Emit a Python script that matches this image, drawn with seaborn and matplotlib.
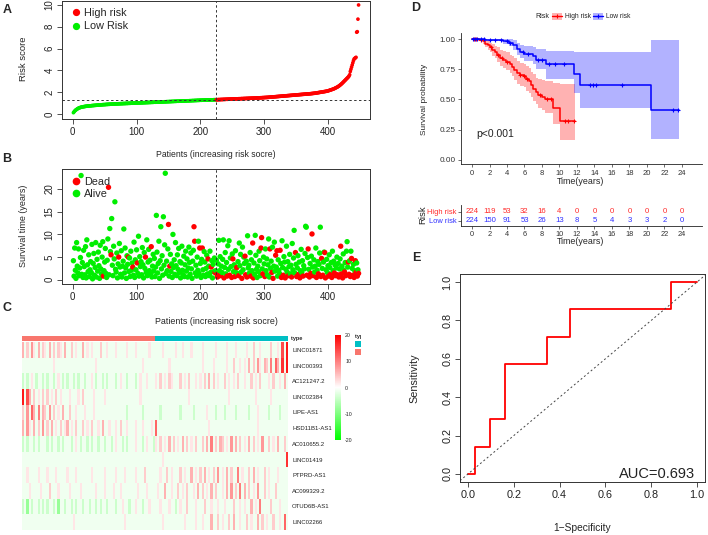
import numpy as np
import pandas as pd
import matplotlib
matplotlib.use('Agg')
import matplotlib.pyplot as plt
import seaborn as sns
from matplotlib.colors import LinearSegmentedColormap, ListedColormap
from matplotlib.lines import Line2D
from matplotlib.patches import Rectangle
from matplotlib.ticker import FormatStrFormatter

# ---- A: risk scores (sorted), low group then high group
risk_low = [
    0.12, 0.20, 0.27, 0.33, 0.38, 0.42, 0.46, 0.50, 0.53, 0.56, 0.58, 0.60, 0.62, 0.63, 0.65, 0.66,
    0.67, 0.68, 0.69, 0.70, 0.71, 0.72, 0.72, 0.73, 0.74, 0.74, 0.75, 0.75, 0.76, 0.77, 0.77, 0.78,
    0.78, 0.79, 0.79, 0.80, 0.80, 0.81, 0.81, 0.82, 0.82, 0.83, 0.83, 0.84, 0.84, 0.85, 0.85, 0.86,
    0.86, 0.86, 0.87, 0.87, 0.88, 0.88, 0.88, 0.89, 0.89, 0.89, 0.90, 0.90, 0.90, 0.91, 0.91, 0.91,
    0.92, 0.92, 0.92, 0.93, 0.93, 0.93, 0.93, 0.94, 0.94, 0.94, 0.95, 0.95, 0.95, 0.95, 0.96, 0.96,
    0.96, 0.96, 0.97, 0.97, 0.97, 0.97, 0.98, 0.98, 0.98, 0.98, 0.99, 0.99, 0.99, 0.99, 1.00, 1.00,
    1.00, 1.00, 1.01, 1.01, 1.01, 1.01, 1.02, 1.02, 1.02, 1.02, 1.03, 1.03, 1.03, 1.03, 1.04, 1.04,
    1.04, 1.04, 1.05, 1.05, 1.05, 1.05, 1.06, 1.06, 1.06, 1.06, 1.07, 1.07, 1.07, 1.07, 1.08, 1.08,
    1.08, 1.08, 1.09, 1.09, 1.09, 1.09, 1.10, 1.10, 1.10, 1.10, 1.11, 1.11, 1.11, 1.11, 1.12, 1.12,
    1.12, 1.12, 1.13, 1.13, 1.13, 1.13, 1.14, 1.14, 1.14, 1.14, 1.15, 1.15, 1.15, 1.15, 1.16, 1.16,
    1.16, 1.16, 1.17, 1.17, 1.17, 1.17, 1.18, 1.18, 1.18, 1.18, 1.19, 1.19, 1.19, 1.19, 1.20, 1.20,
    1.20, 1.20, 1.21, 1.21, 1.21, 1.21, 1.22, 1.22, 1.22, 1.22, 1.23, 1.23, 1.23, 1.23, 1.24, 1.24,
    1.24, 1.24, 1.25, 1.25, 1.25, 1.25, 1.26, 1.26, 1.26, 1.26, 1.27, 1.27, 1.27, 1.27, 1.28, 1.28,
    1.28, 1.28, 1.29, 1.29, 1.29, 1.29, 1.29, 1.30, 1.30, 1.30, 1.30, 1.30, 1.31, 1.31, 1.31, 1.31,
]
risk_high = [
    1.31, 1.31, 1.31, 1.32, 1.32, 1.32, 1.32, 1.33, 1.33, 1.33, 1.33, 1.34, 1.34, 1.34, 1.34, 1.35,
    1.35, 1.35, 1.35, 1.36, 1.36, 1.36, 1.36, 1.37, 1.37, 1.37, 1.37, 1.38, 1.38, 1.38, 1.38, 1.39,
    1.39, 1.39, 1.39, 1.40, 1.40, 1.40, 1.40, 1.41, 1.41, 1.41, 1.41, 1.42, 1.42, 1.42, 1.42, 1.43,
    1.43, 1.43, 1.43, 1.44, 1.44, 1.44, 1.44, 1.45, 1.45, 1.45, 1.45, 1.46, 1.46, 1.46, 1.46, 1.47,
    1.47, 1.47, 1.48, 1.48, 1.48, 1.49, 1.49, 1.49, 1.50, 1.50, 1.50, 1.51, 1.51, 1.51, 1.52, 1.52,
    1.52, 1.53, 1.53, 1.54, 1.54, 1.55, 1.55, 1.56, 1.56, 1.57, 1.57, 1.58, 1.58, 1.59, 1.59, 1.60,
    1.60, 1.61, 1.61, 1.62, 1.62, 1.63, 1.63, 1.64, 1.64, 1.65, 1.65, 1.66, 1.66, 1.67, 1.67, 1.68,
    1.68, 1.69, 1.69, 1.70, 1.70, 1.71, 1.71, 1.72, 1.72, 1.73, 1.73, 1.74, 1.74, 1.75, 1.75, 1.76,
    1.76, 1.77, 1.77, 1.78, 1.78, 1.79, 1.79, 1.80, 1.80, 1.81, 1.81, 1.82, 1.82, 1.83, 1.83, 1.84,
    1.84, 1.85, 1.85, 1.86, 1.86, 1.87, 1.88, 1.88, 1.89, 1.90, 1.90, 1.91, 1.92, 1.93, 1.94, 1.95,
    1.96, 1.97, 1.98, 1.99, 2.00, 2.01, 2.02, 2.03, 2.04, 2.05, 2.06, 2.07, 2.08, 2.09, 2.10, 2.12,
    2.14, 2.16, 2.18, 2.20, 2.22, 2.24, 2.26, 2.28, 2.30, 2.33, 2.36, 2.39, 2.42, 2.45, 2.48, 2.52,
    2.56, 2.60, 2.65, 2.70, 2.75, 2.80, 2.86, 2.92, 2.98, 3.04, 3.10, 3.16, 3.22, 3.28, 3.34, 3.40,
    3.48, 3.60, 3.90, 4.10, 4.30, 4.50, 4.70, 4.90, 5.05, 5.10, 5.15, 5.20, 7.50, 7.55, 8.70, 10.00,
]
risk_cutoff = 1.31

# ---- B: survival time (years) per patient, same order
surv_time = [
    4.2, 0.8, 7.0, 2.1, 0.3, 8.2, 3.0, 1.5, 6.8, 0.9, 2.6, 4.9, 23.0, 1.2, 3.8, 0.5,
    6.5, 2.9, 1.1, 7.3, 0.4, 8.8, 3.3, 1.8, 5.5, 0.7, 2.2, 4.0, 1.6, 7.8, 0.2, 3.6,
    5.8, 1.0, 2.7, 8.2, 0.6, 4.5, 1.9, 6.1, 3.1, 0.3, 7.6, 2.4, 1.3, 5.0, 8.4, 0.8,
    2.0, 3.9, 6.9, 1.4, 0.5, 4.3, 9.0, 20.4, 1.1, 11.3, 6.2, 5.5, 13.5, 3.2, 0.9, 7.4,
    4.6, 17.2, 2.3, 1.7, 5.9, 0.4, 3.5, 5.0, 8.0, 2.8, 1.2, 6.4, 0.6, 3.0, 4.1, 11.2,
    1.5, 7.0, 2.6, 0.3, 5.3, 3.4, 5.0, 1.8, 4.8, 0.7, 6.3, 2.1, 3.7, 2.8, 1.0, 8.3,
    0.5, 4.4, 2.2, 6.6, 3.7, 1.4, 9.6, 0.8, 5.1, 2.9, 4.0, 1.1, 7.1, 3.3, 0.4, 6.0,
    2.5, 5.0, 1.6, 8.8, 0.9, 3.9, 6.7, 2.0, 4.3, 1.3, 7.3, 0.6, 3.0, 5.6, 1.9, 4.7,
    0.7, 2.8, 14.2, 6.1, 1.5, 3.6, 8.5, 0.3, 4.2, 11.7, 2.4, 5.3, 1.0, 13.9, 3.2, 7.7,
    23.5, 1.4, 4.1, 2.0, 6.8, 12.2, 0.8, 3.0, 5.6, 1.8, 3.5, 0.5, 10.0, 2.7, 4.4, 1.2,
    8.2, 3.1, 0.9, 5.5, 2.3, 6.9, 1.6, 4.0, 0.4, 3.7, 7.4, 2.1, 1.1, 5.2, 0.7, 3.3,
    6.3, 1.9, 4.6, 0.6, 2.6, 7.2, 3.8, 1.2, 5.9, 2.4, 0.3, 4.1, 6.5, 11.7, 8.5, 1.5,
    3.2, 0.8, 5.0, 2.1, 8.5, 1.4, 7.0, 3.6, 0.5, 4.5, 7.0, 2.2, 1.0, 6.2, 3.9, 0.7,
    2.5, 5.4, 1.3, 4.6, 3.0, 0.9, 6.3, 1.6, 2.8, 4.2, 0.4, 3.4, 1.8, 4.8, 1.6, 2.0,
    4.3, 1.2, 0.6, 3.5, 8.7, 2.0, 5.1, 0.9, 3.0, 1.6, 4.5, 8.8, 0.4, 2.7, 6.0, 1.3,
    3.8, 0.8, 7.5, 2.3, 8.6, 1.0, 4.8, 2.9, 0.5, 5.7, 4.6, 1.8, 3.3, 0.7, 6.4, 2.5,
    2.7, 1.4, 4.0, 0.9, 8.1, 3.1, 5.6, 1.7, 0.3, 7.2, 2.2, 5.0, 3.6, 5.2, 1.1, 4.1,
    0.6, 9.7, 2.6, 3.2, 1.5, 6.0, 0.8, 4.4, 2.0, 8.1, 0.4, 3.7, 1.2, 9.8, 5.4, 2.3,
    0.5, 3.0, 1.8, 6.3, 4.2, 0.9, 7.0, 9.3, 2.4, 1.3, 5.0, 3.5, 0.7, 6.8, 2.0, 4.6,
    1.1, 3.3, 9.0, 0.6, 6.8, 2.5, 4.1, 1.6, 7.2, 0.3, 3.0, 8.3, 1.9, 5.4, 2.8, 6.4,
    0.8, 4.4, 2.1, 1.4, 6.5, 3.6, 0.5, 8.6, 2.7, 1.0, 5.1, 3.9, 0.4, 2.3, 7.4, 1.7,
    4.0, 0.9, 2.9, 5.6, 1.3, 3.2, 0.6, 8.0, 2.2, 4.8, 10.9, 1.5, 6.0, 3.4, 0.7, 2.6,
    5.3, 1.2, 3.9, 0.4, 2.0, 6.7, 1.6, 4.2, 0.8, 3.1, 2.4, 5.8, 11.8, 11.6, 1.0, 4.9,
    6.8, 2.3, 0.6, 3.6, 1.4, 5.2, 10.1, 2.8, 0.9, 4.4, 1.7, 3.0, 7.0, 0.5, 2.1, 4.0,
    1.3, 3.4, 5.9, 11.6, 0.7, 4.7, 2.5, 1.0, 3.9, 6.1, 6.0, 0.4, 2.2, 4.5, 1.6, 3.1,
    0.8, 5.5, 2.7, 1.2, 3.8, 0.5, 6.3, 2.0, 4.1, 1.5, 3.3, 0.9, 2.6, 5.0, 1.1, 3.6,
    0.6, 2.4, 4.6, 7.4, 1.3, 3.0, 0.4, 5.7, 2.1, 1.7, 3.8, 0.9, 6.3, 8.4, 2.8, 3.9,
    1.2, 4.2, 0.7, 6.3, 4.7, 2.5, 1.0, 3.4, 0.5, 2.0, 4.2, 1.6, 3.7, 0.8, 2.2, 1.4,
]
dead_patients = [
    48, 56, 60, 72, 87, 94, 101, 114, 123, 150, 152, 190, 191, 199, 203, 212, 217, 223,
    226, 227, 232, 237, 242, 246, 249, 251, 254, 257, 260, 265, 270, 271, 273, 279, 282, 283,
    295, 296, 298, 301, 309, 312, 314, 318, 320, 325, 327, 330, 333, 338, 343, 349, 351, 354,
    356, 361, 367, 369, 371, 373, 375, 377, 382, 385, 389, 390, 392, 395, 396, 401, 404, 406,
    410, 412, 415, 417, 420, 421, 423, 426, 428, 432, 433, 435, 437, 439, 441, 443, 444, 446, 448,
]

# ---- C: expression heatmap, one string per gene ('.' ~ -1, '-' -4, '=' -8, digit d -> 2*d)
genes = ['LINC01871', 'LINC00393', 'AC121247.2', 'LINC02384', 'LIPE-AS1', 'HSD11B1-AS1',
         'AC010655.2', 'LINC01419', 'PTPRD-AS1', 'AC099329.2', 'OTUD6B-AS1', 'LINC02266']
expr_rows = [
    "3.2.41.3.2" "1.3.2.21.3" "..2.1..3.1" ".1...2..1." "..1....1.." ".1.....1.." "...1.....1" "..1...1..." ".1.....1.." "..1...1..." ".1..2..1.." "..2..1.7.9",
    ".........." "....1....." ".........." "...1......" ".........." "....1....." "......1..." ".........." ".1....1..." "..1..2..1." "1.3.2.41.3" "2.5.63.8.9",
    "-.-.1.-..-" ".-..-.1.-." "-..-.-..-." ".1.-..-.-." "..-.1..-.." ".-.1..1..." "1.2.1.21.." ".2.1.2..1." "1.2.3.2.1." ".2.1.1.2.." "1..2.1.2.." ".1.2..1.3.",
    "9.73.2.1.2" ".2.1.2.1.." ".1...1.2.." "..1....1.." ".........." "...1......" ".........." ".....1...." ".........." "...1......" ".....1...." "..1.......",
    "2.4.63.5.3" "2.4.2.1.3." ".2..1...1." "..1......." ".......-.." "....-....." "..-......." ".-.....-.." "...1...-.." ".-....-..." "..-...1..." ".-....-...",
    "3.41.3.2.4" ".2.3.1.2.1" "3.1.2..2.1" ".2..1.3..1" "..1.2..1.." ".1..1...1." "6........." ".........." "....1....." ".........." "......1..." "..........",
    "-.-..-.-.." ".-.-..-.-." "..-.1.-..-" ".-..-..-.." "-.1..-.-.." ".1..-.1..-" "1.2.1.3.2." "1.3.2.1.2." ".2.3.5.2.3" "2.1.4.3.2." "1.3.2.1.4." ".2.1.3..2.",
    ".........." ".........." ".........." ".........." ".........." ".........." "...1......" ".........." ".........." ".........." ".........." ".........8",
    "..1....1.." ".1...1...." "1...1....." ".1.....1.." "..1...1..." ".1...2...." "..1..2.1.." ".2.1..3.1." "2.3.1.2.4." "1.3.2..5.1" "..2.3.1..2" ".1...1....",
    "...1....1." "..2...1..." ".1....1..." "...1...1.." ".1..1....." "..1...1..." ".1..3..1.." "2.1.2..1.3" ".2.1.3.2.." "1.3.4.2.5." "3.2.1.4..2" ".1..2.....",
    "-.=.-..-.-" ".-..-.=..-" "..-.-..-.." "-..-.-..-." "..-..1..-." ".1..-..1.." "..1...1..-" ".1..2...1." "..2..1..1." ".1...2..1." "1..3.1.5.." "..2...1...",
    ".........." ".........." "...1......" ".........." "......1..." ".........." "...1......" "...1....1." ".1...3..2." "1..2.3..1." ".2.1..3.2." "1..2..1.6.",
]
level_values = {'.': -1.2, ',': 0.0, '-': -4.0, '=': -8.0}

# ---- D: Kaplan-Meier steps
km_high_t = [0, 0.8, 1.2, 1.5, 1.8, 2.0, 2.3, 2.6, 2.9, 3.2, 3.5, 3.9, 4.3, 4.6, 4.8, 5.2, 5.5,
             5.9, 6.2, 6.5, 6.8, 7.0, 7.3, 7.6, 8.0, 8.3, 9.3, 10.1, 11.8]
km_high_s = [1.0, 0.99, 0.98, 0.96, 0.95, 0.93, 0.91, 0.89, 0.87, 0.84, 0.83, 0.81, 0.79, 0.77,
             0.74, 0.72, 0.70, 0.69, 0.67, 0.65, 0.62, 0.59, 0.56, 0.54, 0.52, 0.50, 0.43, 0.32, 0.32]
km_high_hi = [1.0, 1.0, 1.0, 0.99, 0.98, 0.97, 0.96, 0.94, 0.93, 0.91, 0.90, 0.89, 0.87, 0.86,
              0.84, 0.82, 0.80, 0.79, 0.78, 0.76, 0.73, 0.71, 0.68, 0.67, 0.66, 0.65, 0.64, 0.63, 0.63]
km_high_lo = [1.0, 0.98, 0.96, 0.93, 0.91, 0.89, 0.86, 0.84, 0.81, 0.78, 0.76, 0.74, 0.72, 0.69,
              0.66, 0.63, 0.61, 0.60, 0.57, 0.55, 0.52, 0.49, 0.46, 0.43, 0.41, 0.39, 0.30, 0.16, 0.16]
km_high_cens = [0.2, 0.5, 1.0, 2.2, 3.0, 3.4, 4.0, 5.5, 6.0, 6.3, 7.8, 8.6, 9.0, 10.6, 11.0, 11.7]

km_low_t = [0, 1.5, 2.5, 3.5, 4.2, 4.7, 5.1, 5.5, 6.0, 7.0, 7.3, 8.5, 11.7, 12.3, 20.5, 23.7]
km_low_s = [1.0, 0.995, 0.99, 0.98, 0.97, 0.95, 0.92, 0.89, 0.88, 0.86, 0.83, 0.79, 0.71, 0.62, 0.41, 0.41]
km_low_hi = [1.0, 1.0, 1.0, 1.0, 1.0, 0.99, 0.97, 0.95, 0.94, 0.93, 0.92, 0.90, 0.89, 0.89, 0.99, 0.99]
km_low_lo = [1.0, 0.99, 0.98, 0.96, 0.94, 0.91, 0.87, 0.84, 0.82, 0.79, 0.75, 0.67, 0.55, 0.43, 0.17, 0.17]
km_low_cens = [0.1, 0.3, 0.6, 1.0, 1.4, 2.0, 2.6, 3.3, 4.0, 4.4, 5.8, 6.4, 7.5, 8.0, 8.8, 9.5,
               10.5, 13.5, 13.8, 14.2, 17.2, 23.0, 23.6]

table_times = [0, 2, 4, 6, 8, 10, 12, 14, 16, 18, 20, 22, 24]
at_risk_high = [224, 119, 53, 32, 16, 4, 0, 0, 0, 0, 0, 0, 0]
at_risk_low = [224, 150, 91, 53, 26, 13, 8, 5, 4, 3, 3, 2, 0]

# ---- E: ROC curve
roc_fpr = [0, 0.03, 0.03, 0.097, 0.097, 0.16, 0.16, 0.345, 0.345, 0.447, 0.447, 0.885, 0.885, 1.0]
roc_tpr = [0, 0, 0.143, 0.143, 0.286, 0.286, 0.571, 0.571, 0.714, 0.714, 0.857, 0.857, 1.0, 1.0]
auc_value = 0.693

RED = '#FF0000'
GREEN = '#00EE00'
BLUE = '#0000FF'

sns.set_style('ticks')
plt.rcParams['font.family'] = ['Liberation Sans', 'DejaVu Sans']
plt.rcParams['axes.unicode_minus'] = False

W, H = 708, 535
fig = plt.figure(figsize=(W / 100, H / 100), dpi=100)


def px_axes(x0, y0, x1, y1):
    # axes placed by pixel box (top-left origin)
    return fig.add_axes([x0 / W, 1 - y1 / H, (x1 - x0) / W, (y1 - y0) / H])


def ftext(x, y, s, **kw):
    fig.text(x / W, 1 - y / H, s, **kw)


def r_base_style(ax, labelsize=7):
    for sp in ax.spines.values():
        sp.set_visible(True)
        sp.set_color('#333333')
        sp.set_linewidth(0.7)
    ax.tick_params(direction='out', length=3.5, width=0.6, color='#333333',
                   labelsize=labelsize, pad=2, labelcolor='#222222')
    ax.tick_params(axis='y', labelrotation=90)
    for lab in ax.get_yticklabels():
        lab.set_va('center')
    ax.set_xlabel('')
    ax.set_ylabel('')


n_low, n_high = len(risk_low), len(risk_high)
patients = np.arange(1, n_low + n_high + 1)
group = ['Low Risk'] * n_low + ['High risk'] * n_high
cut_patient = n_low + 0.5

# ---------------- A
ax_a = px_axes(62, 0.5, 370, 119)
df_a = pd.DataFrame({'patient': patients, 'risk': risk_low + risk_high, 'group': group})
sns.scatterplot(data=df_a, x='patient', y='risk', hue='group', hue_order=['High risk', 'Low Risk'],
                palette=[RED, GREEN], s=7, linewidth=0, legend=False, ax=ax_a)
ax_a.axvline(cut_patient, ls=(0, (2.5, 2.5)), color='#333333', lw=0.7)
ax_a.axhline(risk_cutoff, ls=(0, (2.5, 2.5)), color='#333333', lw=0.7)
ax_a.set_xlim(-16.9, 465.9)
ax_a.set_ylim(-0.46, 10.41)
ax_a.set_xticks([0, 100, 200, 300, 400])
ax_a.set_yticks([0, 2, 4, 6, 8, 10])
r_base_style(ax_a)
ax_a.legend(handles=[Line2D([], [], marker='o', ls='', color=RED, ms=4.2),
                     Line2D([], [], marker='o', ls='', color=GREEN, ms=4.2)],
            labels=['High risk', 'Low Risk'], loc='upper left', frameon=False, fontsize=7.8,
            handletextpad=0.15, handlelength=1.2, labelspacing=0.3, borderaxespad=0.4,
            borderpad=0.3)
ftext(216, 155, 'Patients (increasing risk socre)', ha='center', va='center', fontsize=6.2)
ftext(24, 59, 'Risk score', ha='center', va='center', rotation=90, fontsize=6.8)

# ---------------- B
ax_b = px_axes(62, 169, 370, 284)
status = np.array(['Alive'] * len(surv_time), dtype=object)
status[np.array(dead_patients) - 1] = 'Dead'
df_b = pd.DataFrame({'patient': np.arange(1, len(surv_time) + 1), 'time': surv_time, 'status': status})
sns.scatterplot(data=df_b, x='patient', y='time', hue='status', hue_order=['Alive', 'Dead'],
                palette=[GREEN, RED], s=15, linewidth=0, legend=False, ax=ax_b)
ax_b.axvline(cut_patient, ls=(0, (2.5, 2.5)), color='#333333', lw=0.7)
ax_b.set_xlim(-16.9, 465.9)
ax_b.set_ylim(-0.94, 24.44)
ax_b.set_xticks([0, 100, 200, 300, 400])
ax_b.set_yticks([0, 5, 10, 15, 20])
r_base_style(ax_b)
ax_b.legend(handles=[Line2D([], [], marker='o', ls='', color=RED, ms=4.5),
                     Line2D([], [], marker='o', ls='', color=GREEN, ms=4.5)],
            labels=['Dead', 'Alive'], loc='upper left', frameon=False, fontsize=7.8,
            handletextpad=0.15, handlelength=1.2, labelspacing=0.25, borderaxespad=0.4,
            borderpad=0.3)
ftext(216, 322, 'Patients (increasing risk socre)', ha='center', va='center', fontsize=6.4)
ftext(24, 226, 'Survival time (years)', ha='center', va='center', rotation=90, fontsize=6.5)

# ---------------- C
ncol = max(len(r) for r in expr_rows)
mat = np.array([[level_values[c] if c in level_values else 2.0 * int(c) for c in r.ljust(ncol, '.')]
                for r in expr_rows])
expr_df = pd.DataFrame(mat, index=genes)
gwr = LinearSegmentedColormap.from_list('gwr', ['#00FF00', '#FFFFFF', '#FF0000'])
ax_c = px_axes(22, 342, 288, 530)
cax = px_axes(335, 335, 341, 440)
sns.heatmap(expr_df, cmap=gwr, vmin=-20, vmax=20, ax=ax_c, cbar_ax=cax,
            xticklabels=False, yticklabels=genes, linewidths=0,
            cbar_kws={'ticks': [20, 10, 0, -10, -20]})
ax_c.yaxis.tick_right()
ax_c.tick_params(axis='y', length=0, labelsize=4.3, pad=3, labelrotation=0, labelcolor='#222222')
cbar = ax_c.collections[0].colorbar
cbar.outline.set_visible(False)
cbar.ax.tick_params(length=0, labelsize=3.8, pad=3, labelcolor='#222222')

ax_t = px_axes(22, 336, 288, 341)
type_codes = np.array([[0 if g == 'Low Risk' else 1 for g in group]])
sns.heatmap(type_codes, cmap=ListedColormap(['#F8766D', '#00BFC4']), vmin=0, vmax=1, cbar=False,
            xticklabels=False, yticklabels=False, ax=ax_t)
ftext(291, 338.5, 'type', ha='left', va='center', fontsize=4, fontweight='bold')

ax_tl = px_axes(352, 330, 360.5, 358)
ax_tl.set_xlim(352, 360.5)
ax_tl.set_ylim(358, 330)
ax_tl.axis('off')
ax_tl.add_patch(Rectangle((355, 341), 8, 6, color='#00BFC4', lw=0, clip_on=True))
ax_tl.add_patch(Rectangle((355, 349), 8, 6, color='#F8766D', lw=0, clip_on=True))
ax_tl.text(355, 337, 'type', fontsize=4, fontweight='bold', va='center', ha='left', clip_on=True)
ftext(7, 308, 'C', fontsize=9, fontweight='bold', ha='center', va='center')

# ---------------- D
ax_d = px_axes(461, 33, 702, 164)
for t, s, lo, hi, cens, color in [
        (km_high_t, km_high_s, km_high_lo, km_high_hi, km_high_cens, RED),
        (km_low_t, km_low_s, km_low_lo, km_low_hi, km_low_cens, BLUE)]:
    ax_d.fill_between(t, lo, hi, step='post', color=color, alpha=0.3, lw=0)
    sns.lineplot(x=t, y=s, drawstyle='steps-post', color=color, lw=1.1, ax=ax_d,
                 estimator=None, sort=False)
    cy = np.array(s)[np.searchsorted(t, cens, side='right') - 1]
    ax_d.plot(cens, cy, '+', color=color, ms=3.5, mew=0.8)
ax_d.set_xlim(-1.26, 26.3)
ax_d.set_ylim(-0.035, 1.05)
ax_d.set_xticks(table_times)
ax_d.set_yticks([0, 0.25, 0.5, 0.75, 1.0])
ax_d.yaxis.set_major_formatter(FormatStrFormatter('%.2f'))
sns.despine(ax=ax_d)
for sp in ['left', 'bottom']:
    ax_d.spines[sp].set_color('#222222')
    ax_d.spines[sp].set_linewidth(0.6)
ax_d.tick_params(direction='out', length=2.5, width=0.5, color='#333333', labelsize=5.5,
                 pad=1.5, labelcolor='#333333')
ax_d.tick_params(axis='y', labelsize=5.9)
ax_d.set_xlabel('')
ax_d.set_ylabel('')
ax_d.text(0.5, 0.21, 'p<0.001', fontsize=7.5, ha='left', va='center', color='#222222')
ftext(581, 181, 'Time(years)', ha='center', va='center', fontsize=6.4)
ftext(424, 99, 'Survival probability', ha='center', va='center', rotation=90, fontsize=6)

# legend of D
ax_l = px_axes(480, 6, 680, 26)
ax_l.set_xlim(480, 680)
ax_l.set_ylim(26, 6)
ax_l.axis('off')
ax_l.text(535, 16.2, 'Risk', fontsize=5, va='center', ha='left', color='#222222')
for x0, color, lab in [(552, RED, 'High risk'), (593, BLUE, 'Low risk')]:
    ax_l.add_patch(Rectangle((x0, 12.5), 10, 7.5, color=color, alpha=0.3, lw=0))
    ax_l.plot([x0, x0 + 10], [16.2, 16.2], color=color, lw=1)
    ax_l.plot([x0 + 5], [16.2], '+', color=color, ms=3, mew=0.8)
    ax_l.text(x0 + 13, 16.2, lab, fontsize=4.8, va='center', ha='left', color='#222222')

# risk table
ax_r = px_axes(461, 205, 702, 226)
for row, counts, color in [(1, at_risk_high, '#FF2A2A'), (0, at_risk_low, '#3030FF')]:
    for tt, nn in zip(table_times, counts):
        ax_r.text(tt, row, str(nn), ha='center', va='center', fontsize=5.6, color=color)
ax_r.set_xlim(-1.26, 26.3)
ax_r.set_ylim(-0.56, 1.78)
ax_r.set_xticks(table_times)
ax_r.set_yticks([0, 1])
ax_r.set_yticklabels(['Low risk', 'High risk'])
for lab, color in zip(ax_r.get_yticklabels(), ['#3030FF', '#FF2A2A']):
    lab.set_color(color)
sns.despine(ax=ax_r)
for sp in ['left', 'bottom']:
    ax_r.spines[sp].set_color('#222222')
    ax_r.spines[sp].set_linewidth(0.6)
ax_r.tick_params(direction='out', length=2, width=0.5, color='#333333', labelsize=5.4, pad=1.5)
ax_r.tick_params(axis='x', labelcolor='#333333', labelsize=5.3)
ftext(581, 242, 'Time(years)', ha='center', va='center', fontsize=6.4)
ftext(423, 215, 'Risk', ha='center', va='center', rotation=90, fontsize=6.8)

# ---------------- E
ax_e = px_axes(460, 274, 705, 482)
sns.lineplot(x=roc_fpr, y=roc_tpr, sort=False, estimator=None, color=RED, lw=1.3, ax=ax_e)
ax_e.axline((0, 0), (1, 1), ls=(0, (2, 2.5)), color='#444444', lw=0.7)
ax_e.set_xlim(-0.035, 1.035)
ax_e.set_ylim(-0.042, 1.042)
ax_e.set_xticks([0, 0.2, 0.4, 0.6, 0.8, 1.0])
ax_e.set_yticks([0, 0.2, 0.4, 0.6, 0.8, 1.0])
ax_e.xaxis.set_major_formatter(FormatStrFormatter('%.1f'))
ax_e.yaxis.set_major_formatter(FormatStrFormatter('%.1f'))
r_base_style(ax_e, labelsize=7.8)
ax_e.text(0.99, 0.0, 'AUC=%.3f' % auc_value, ha='right', va='center', fontsize=10.5, color='#222222')
ftext(582, 528, '1\u2212Specificity', ha='center', va='center', fontsize=7.4)
ftext(414, 378, 'Sensitivity', ha='center', va='center', rotation=90, fontsize=7.8)

# panel letters
for lab, x, y in [('A', 7, 10), ('B', 7, 159), ('D', 416, 8), ('E', 416, 258)]:
    ftext(x, y, lab, fontsize=9, fontweight='bold', ha='center', va='center')

fig.savefig('out.png', dpi=100)
